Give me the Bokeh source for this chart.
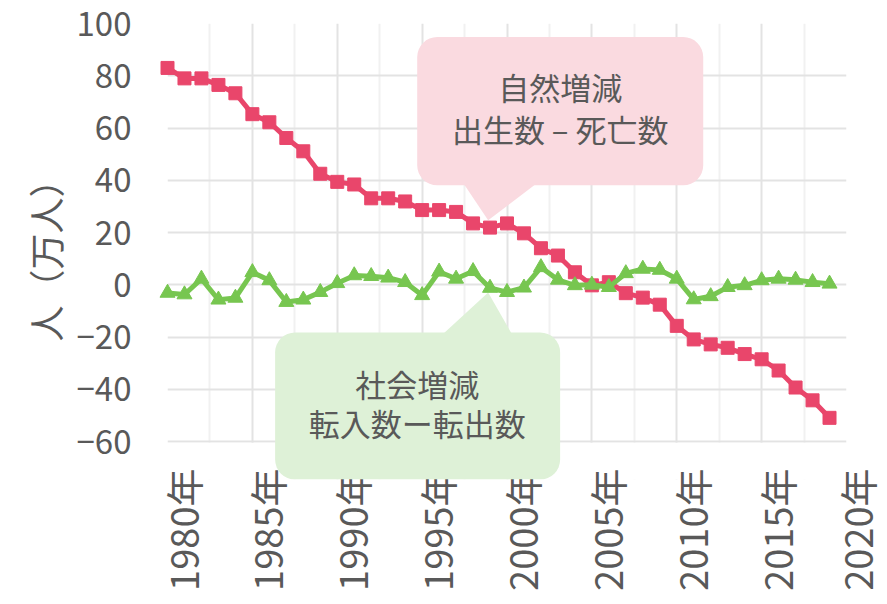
import math
from bokeh.plotting import figure
from bokeh.models import Range1d, FixedTicker, Label, BoxAnnotation, PolyAnnotation
from bokeh.embed import file_html
from bokeh.resources import INLINE

# ---- data ----
years = list(range(1980, 2020))
natural = [83.0, 79.0, 79.0, 76.5, 73.3, 65.3, 62.2, 56.2, 51.1, 42.5,
           39.4, 38.4, 33.1, 33.1, 31.9, 28.6, 28.6, 27.9, 23.5, 21.9,
           23.5, 19.7, 14.0, 11.2, 4.8, -0.2, 1.0, -3.2, -4.9, -7.6,
           -15.7, -20.9, -22.8, -24.1, -26.5, -28.5, -32.8, -39.3, -44.2, -50.9]
social = [-3.1, -3.7, 2.3, -5.7, -5.0, 4.8, 1.7, -6.6, -5.7, -2.8,
          0.6, 3.6, 3.3, 2.7, 1.0, -4.0, 5.0, 2.3, 5.2, -1.2,
          -2.8, -1.1, 6.7, 1.9, -0.2, 0.0, -0.9, 4.4, 6.1, 5.7,
          2.3, -5.6, -4.4, -0.9, -0.2, 1.7, 2.3, 1.9, 1.0, 0.4]
tick_years = [1980, 1985, 1990, 1995, 2000, 2005, 2010, 2015, 2020]
minor_years = [1982.5, 1987.5, 1992.5, 1997.5, 2002.5, 2007.5, 2012.5, 2017.5]
tick_labels = ["1980年", "1985年", "1990年", "1995年", "2000年",
               "2005年", "2010年", "2015年", "2020年"]
y_ticks = [-60, -40, -20, 0, 20, 40, 60, 80, 100]
y_title = "人（万人）"
natural_title = ["自然増減", "出生数 – 死亡数"]
social_title = ["社会増減", "転入数ー転出数"]

FONT = "Noto Sans CJK JP"
TXT = "#595959"
RED = "#E9466B"
GREEN = "#77C650"
PINK = "#FADAE0"
LGREEN = "#DEF1D7"
GRID = "#E3E3E3"

Y_MIN, Y_MAX = -60, 100
Y_EXT = -74.5   # frame extends a bit below -60 so the green callout can overhang the axis

p = figure(width=884, height=600, x_range=Range1d(1980, 2020), y_range=Range1d(Y_EXT, Y_MAX),
           output_backend="svg", toolbar_location=None,
           min_border_left=167, min_border_right=38, min_border_top=23, min_border_bottom=121)
p.background_fill_color = "white"
p.border_fill_color = "white"
p.outline_line_color = None

# y axis
yax = p.yaxis[0]
yax.ticker = FixedTicker(ticks=y_ticks)
yax.axis_line_color = None
yax.major_tick_line_color = None
yax.minor_tick_line_color = None
yax.major_tick_out = 0
yax.major_label_standoff = 36
yax.major_label_text_font = FONT
yax.major_label_text_font_size = "33px"
yax.major_label_text_color = TXT
yax.axis_label = y_title
yax.axis_label_text_font = FONT
yax.axis_label_text_font_size = "36px"
yax.axis_label_text_font_style = "normal"
yax.axis_label_text_color = TXT
yax.axis_label_standoff = 3

# x axis (labels rotated, left edge aligned to the tick)
xax = p.xaxis[0]
xax.ticker = FixedTicker(ticks=tick_years)
xax.major_label_overrides = {yr: "\n" + lab for yr, lab in zip(tick_years, tick_labels)}
xax.major_label_orientation = math.pi / 2
xax.axis_line_color = None
xax.major_tick_line_color = None
xax.minor_tick_line_color = None
xax.major_tick_out = 0
xax.major_tick_in = 0
xax.major_label_standoff = -11
xax.major_label_text_font = FONT
xax.major_label_text_font_size = "38px"
xax.major_label_text_line_height = 0.53
xax.major_label_text_color = TXT

p.xgrid.ticker = FixedTicker(ticks=tick_years, minor_ticks=minor_years)
p.xgrid.grid_line_color = GRID
p.xgrid.grid_line_width = 2
p.xgrid.minor_grid_line_color = "#F1F1F1"
p.xgrid.minor_grid_line_width = 2
p.ygrid.grid_line_color = GRID
p.ygrid.grid_line_width = 2

# white mask below the -60 line (the visible plot area ends at -60)
p.add_layout(BoxAnnotation(top=Y_MIN - 0.4, fill_color="white", fill_alpha=1,
                           line_color=None, level="underlay"))

# callouts
p.add_layout(BoxAnnotation(left=1994.71, right=2011.56, top=94.8, bottom=38.1,
                           fill_color=PINK, fill_alpha=1, line_color=None, border_radius=20))
p.add_layout(PolyAnnotation(xs=[1997.42, 2001.78, 1998.89], ys=[39.0, 39.0, 24.7],
                            fill_color=PINK, fill_alpha=1, line_color=None))
p.add_layout(BoxAnnotation(left=1986.34, right=2003.13, top=-18.2, bottom=Y_EXT,
                           fill_color=LGREEN, fill_alpha=1, line_color=None, border_radius=20))
p.add_layout(PolyAnnotation(xs=[1996.2, 2000.3, 1998.89], ys=[-19.0, -19.0, -2.9],
                            fill_color=LGREEN, fill_alpha=1, line_color=None))
for txt, yy in zip(natural_title, [75.8, 60.0]):
    p.add_layout(Label(x=2003.13, y=yy, text=txt, text_align="center", text_baseline="middle",
                       text_font=FONT, text_font_size="31px", text_color=TXT))
for txt, yy in zip(social_title, [-37.7, -52.7]):
    p.add_layout(Label(x=1994.71, y=yy, text=txt, text_align="center", text_baseline="middle",
                       text_font=FONT, text_font_size="31px", text_color=TXT))

# series
p.line(years, natural, line_color=RED, line_width=5, level="overlay")
p.scatter(years, natural, marker="square", size=13, color=RED, level="overlay")
p.line(years, social, line_color=GREEN, line_width=5, level="overlay")
p.scatter(years, social, marker="triangle", size=15, color=GREEN, level="overlay")

open("out.html", "w").write(file_html(p, INLINE))
